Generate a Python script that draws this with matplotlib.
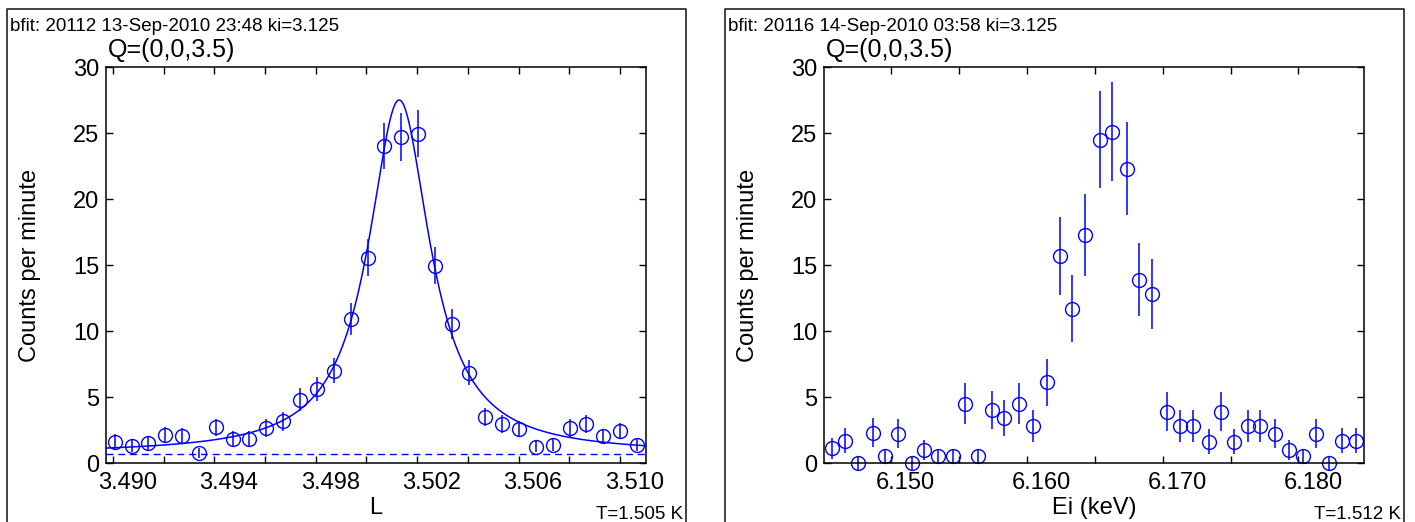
import matplotlib
matplotlib.use('Agg')
import matplotlib.pyplot as plt
import matplotlib.transforms as mtransforms
from matplotlib.lines import Line2D
import numpy as np

plt.rcParams['font.family'] = ['Liberation Sans', 'DejaVu Sans']

# --- left scan: L through Q=(0,0,3.5) ---
scan_L = [3.49006, 3.49073, 3.49139, 3.49206, 3.49272, 3.49339, 3.49405, 3.49472,
          3.49538, 3.49605, 3.49671, 3.49738, 3.49804, 3.49871, 3.49937, 3.50004,
          3.50070, 3.50137, 3.50203, 3.50270, 3.50336, 3.50403, 3.50469, 3.50536,
          3.50602, 3.50669, 3.50735, 3.50802, 3.50868, 3.50935, 3.51001, 3.51068]
counts_L = [1.6, 1.3, 1.5, 2.1, 2.05, 0.75, 2.7, 1.85, 1.85, 2.65, 3.15, 4.8,
            5.6, 7.0, 10.9, 15.55, 24.0, 24.7, 24.95, 14.95, 10.55, 6.85, 3.5, 2.95,
            2.55, 1.25, 1.4, 2.65, 2.95, 2.05, 2.4, 1.35]
err_L = [0.6, 0.5, 0.55, 0.6, 0.6, 0.4, 0.65, 0.55, 0.55, 0.65, 0.7, 0.85,
         0.9, 0.95, 1.2, 1.4, 1.75, 1.8, 1.8, 1.4, 1.15, 0.95, 0.7, 0.65,
         0.6, 0.45, 0.5, 0.65, 0.65, 0.55, 0.6, 0.45]
# lorentzian fit + flat background
fit_center = 3.50129
fit_hwhm = 0.00148
fit_amp = 26.8
fit_bg = 0.7

# --- right scan: Ei ---
scan_E = [6.14566, 6.14658, 6.14752, 6.14864, 6.14955, 6.15052, 6.15152, 6.15245,
          6.15342, 6.15452, 6.15542, 6.15639, 6.15743, 6.15833, 6.15940, 6.16048,
          6.16150, 6.16240, 6.16335, 6.16428, 6.16535, 6.16625, 6.16735, 6.16822,
          6.16920, 6.17030, 6.17126, 6.17222, 6.17340, 6.17426, 6.17526, 6.17625,
          6.17717, 6.17830, 6.17930, 6.18030, 6.18130, 6.18227, 6.18320, 6.18424]
counts_E = [1.1, 1.7, 0.0, 2.3, 0.5, 2.2, 0.0, 1.0, 0.5, 0.5, 4.5, 0.5,
            4.0, 3.4, 4.5, 2.8, 6.1, 15.7, 11.7, 17.3, 24.5, 25.1, 22.3, 13.9,
            12.8, 3.9, 2.8, 2.8, 1.6, 3.9, 1.6, 2.8, 2.8, 2.2, 1.0, 0.5,
            2.2, 0.0, 1.7, 1.7]
err_E = [0.8, 0.95, 0.5, 1.1, 0.55, 1.1, 0.5, 0.75, 0.55, 0.55, 1.55, 0.55,
         1.45, 1.35, 1.55, 1.2, 1.8, 2.95, 2.55, 3.1, 3.7, 3.75, 3.5, 2.8,
         2.65, 1.45, 1.2, 1.2, 0.95, 1.45, 0.95, 1.2, 1.2, 1.1, 0.75, 0.55,
         1.1, 0.5, 0.95, 0.95]

ticks_L = [3.490, 3.492, 3.494, 3.496, 3.498, 3.500, 3.502, 3.504, 3.506, 3.508, 3.510]
ticklabels_L = ['3.490', '', '3.494', '', '3.498', '', '3.502', '', '3.506', '', '3.510']
ticks_E = [6.150, 6.155, 6.160, 6.165, 6.170, 6.175, 6.180]
ticklabels_E = ['6.150', '', '6.160', '', '6.170', '', '6.180']
ticks_y = [0, 5, 10, 15, 20, 25, 30]

W, H = 1415, 522
BLUE = '#0000ff'
fig = plt.figure(figsize=(W / 100, H / 100), dpi=100)


def panel(x_off, xlim, ticks, ticklabels, xlabel, header, temp):
    ax = fig.add_axes([(106 + x_off) / W, (H - 463) / H, 540 / W, 396 / H])
    ax.set_xlim(*xlim)
    ax.set_ylim(0, 30)
    ax.set_xticks(ticks)
    ax.set_xticklabels(ticklabels)
    ax.set_yticks(ticks_y)
    ax.tick_params(which='both', direction='in', top=True, right=True,
                   length=5, width=1.0, labelsize=17, colors='black')
    ax.tick_params(axis='x', pad=6.5)
    ax.tick_params(axis='y', pad=5)
    for s in ax.spines.values():
        s.set_linewidth(1.1)
    # labels sit a little right of their ticks in the original
    shift = mtransforms.ScaledTranslation(14.5 / 100, 0, fig.dpi_scale_trans)
    for t in ax.xaxis.get_major_ticks():
        t.label1.set_transform(t.label1.get_transform() + shift)

    ax.text(0.5, -0.129, xlabel, transform=ax.transAxes, ha='center',
            va='baseline', fontsize=17)
    ax.text(-0.14, 0.5, 'Counts per minute', transform=ax.transAxes,
            rotation=90, ha='center', va='center', fontsize=17)

    # panel frame and text
    fig.add_artist(Line2D(np.array([7, 7, 686, 686]) / W + x_off / W,
                          [-0.02, 1 - 9 / H, 1 - 9 / H, -0.02],
                          transform=fig.transFigure, color='#222222', lw=1.2))
    fig.text((10 + x_off) / W, 1 - 31 / H, header, fontsize=13.5, va='baseline')
    fig.text((108 + x_off) / W, 1 - 57 / H, 'Q=(0,0,3.5)', fontsize=18,
             va='baseline')
    fig.text((683 + x_off) / W, 1 - 519 / H, temp, fontsize=13.5,
             ha='right', va='baseline')
    return ax


def points(ax, x, y, e):
    cont = ax.errorbar(x, y, yerr=e, fmt='o', mfc='none', mec=BLUE, ms=10,
                       mew=1.0, ecolor=BLUE, elinewidth=1.1, capsize=0)
    for a in cont.get_children():
        a.set_clip_on(False)


ax1 = panel(0, (3.48972, 3.51103), ticks_L, ticklabels_L, 'L',
            'bfit: 20112 13-Sep-2010 23:48 ki=3.125', 'T=1.505 K')
xf = np.linspace(3.48972, 3.51103, 600)
yf = fit_bg + fit_amp / (1 + ((xf - fit_center) / fit_hwhm) ** 2)
ax1.plot(xf, yf, color=BLUE, lw=1.1)
ax1.axhline(fit_bg, color=BLUE, lw=1.0, ls=(0, (5, 3.5)))
points(ax1, scan_L, counts_L, err_L)

ax2 = panel(718, (6.14505, 6.18483), ticks_E, ticklabels_E, 'Ei (keV)',
            'bfit: 20116 14-Sep-2010 03:58 ki=3.125', 'T=1.512 K')
points(ax2, scan_E, counts_E, err_E)

fig.savefig('out.png', dpi=100)
